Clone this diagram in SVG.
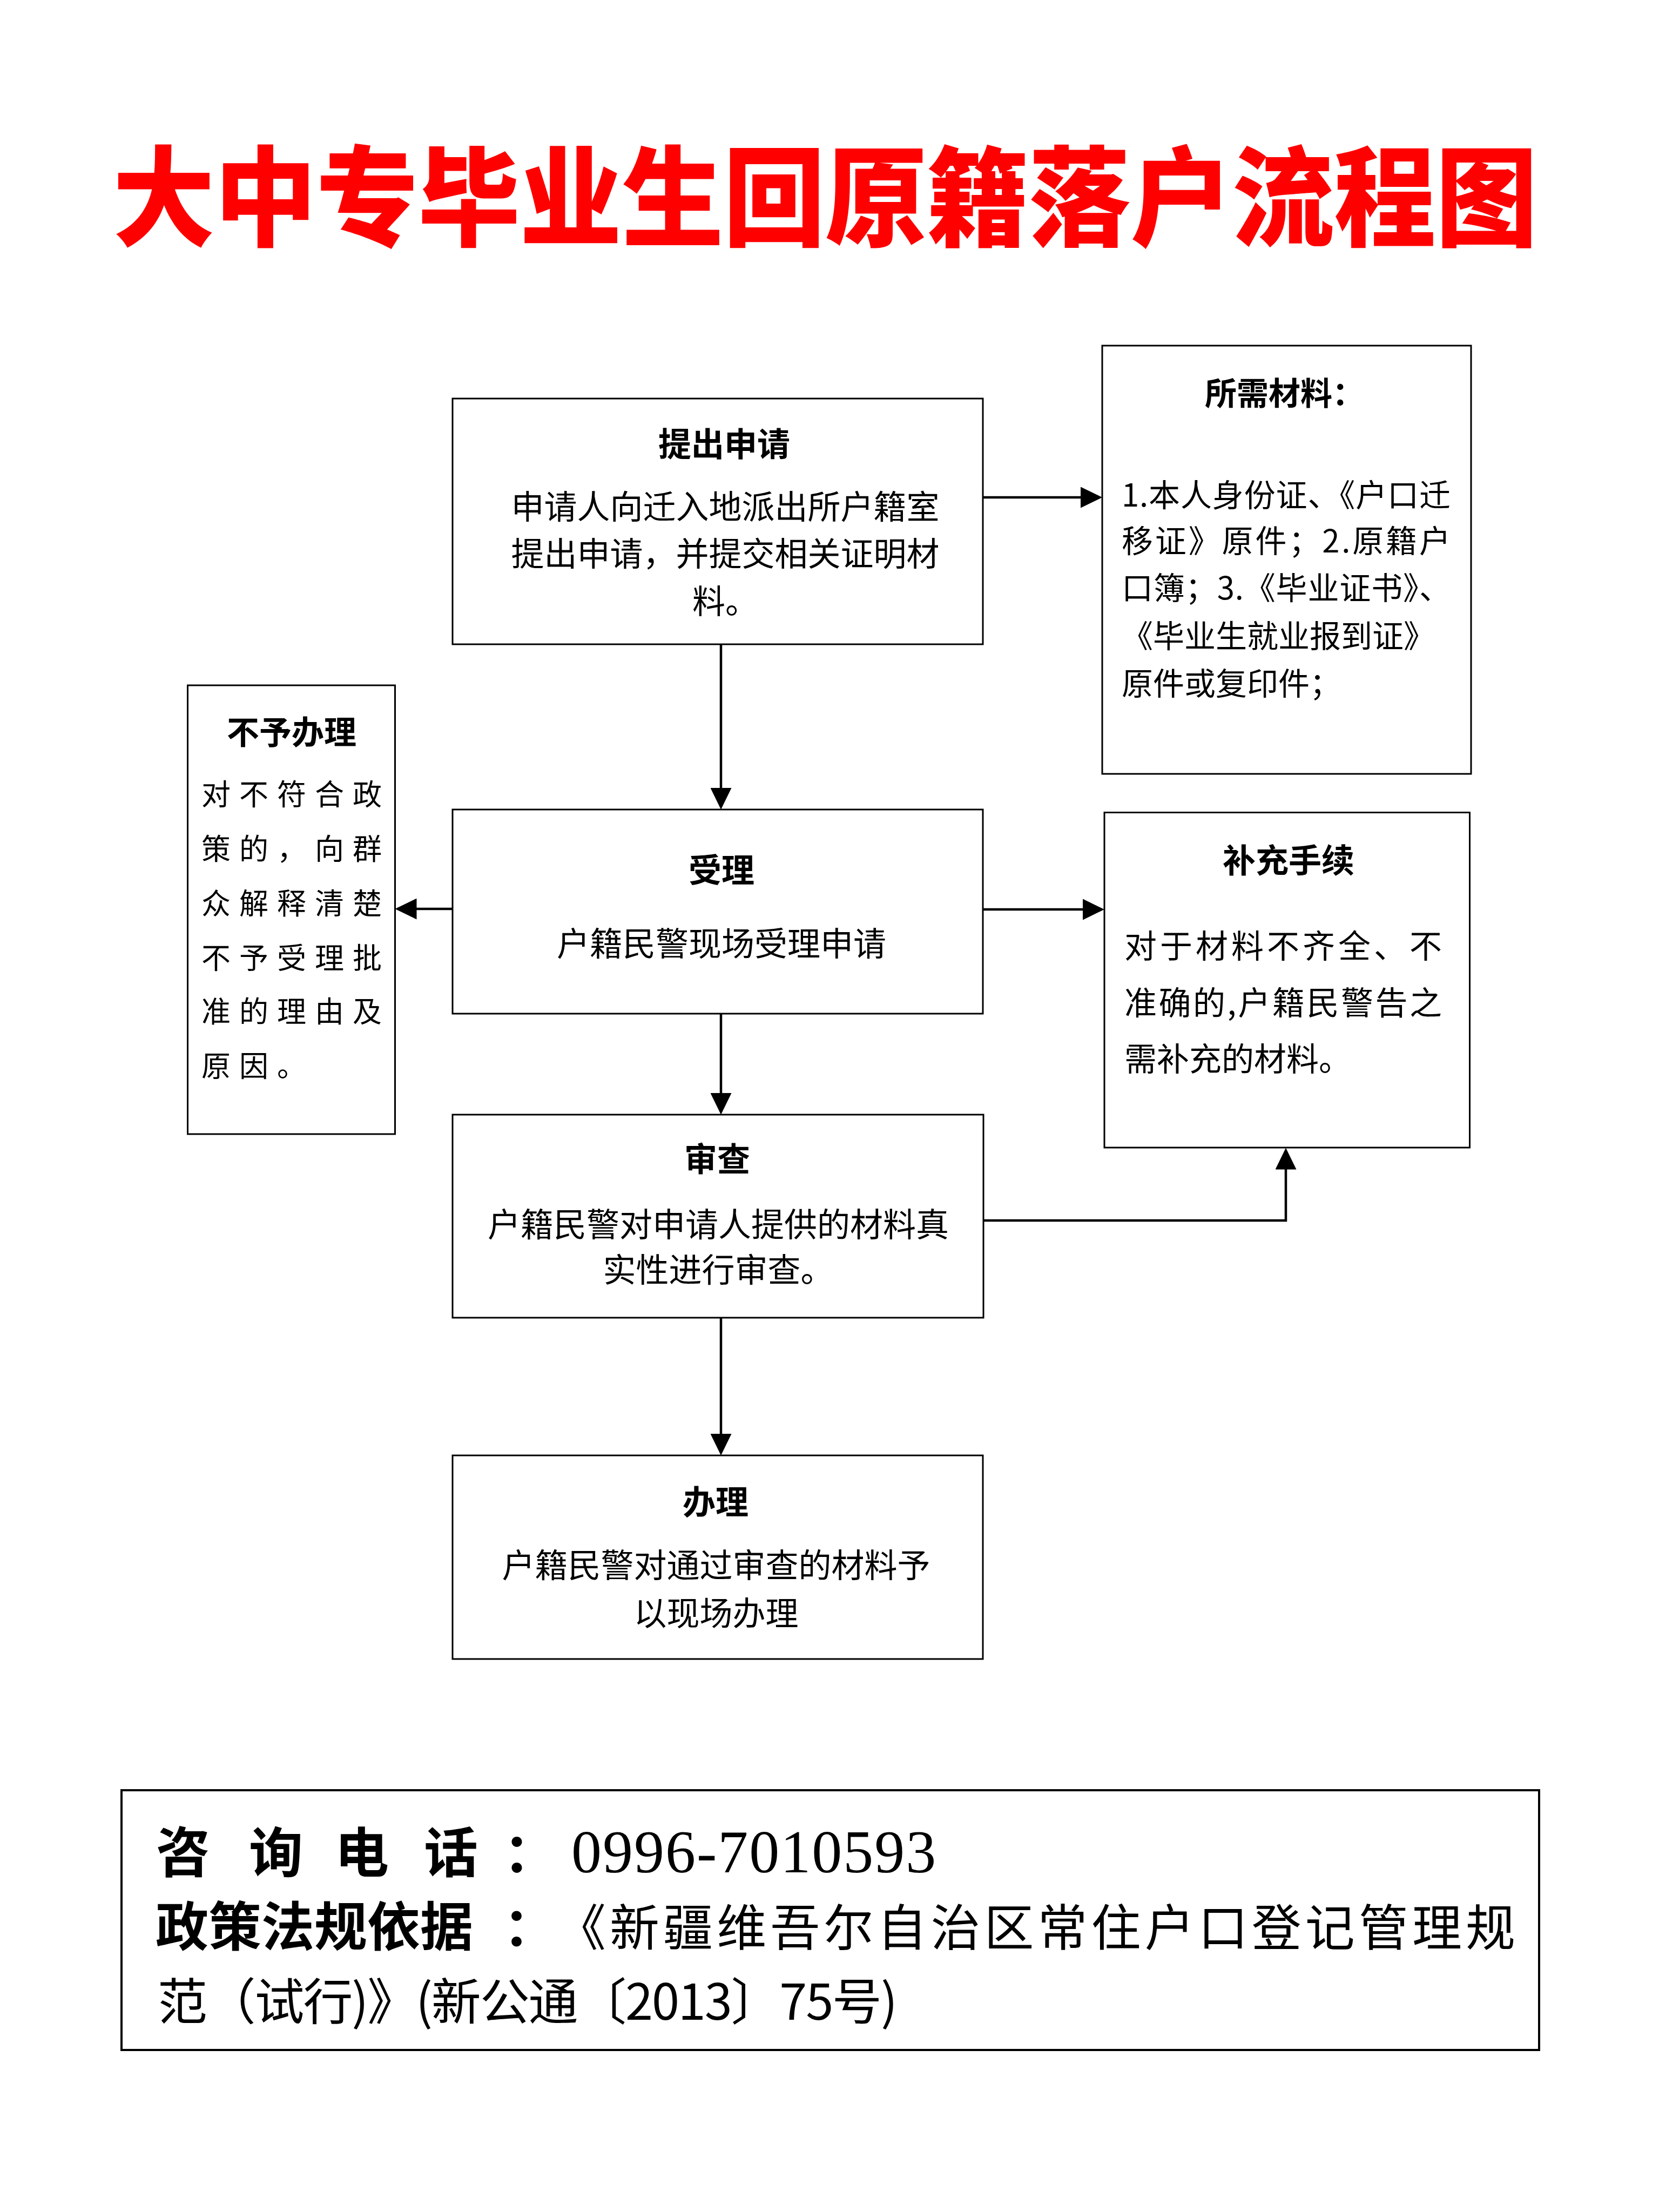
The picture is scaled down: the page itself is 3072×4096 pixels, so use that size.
<svg xmlns="http://www.w3.org/2000/svg" width="3072" height="4096" viewBox="0 0 3072 4096">
<defs>
<style>
.box{fill:#fff;stroke:#000;stroke-width:3}
.t{font-family:"Noto Sans CJK SC","Noto Sans CJK TC",sans-serif;fill:#000}
.h{font-weight:700;font-size:61px;text-anchor:middle}
.b{font-size:61px}
.m{text-anchor:middle}
.conn{fill:none;stroke:#000;stroke-width:4.5}
</style>
<marker id="ah" markerUnits="userSpaceOnUse" viewBox="0 0 40 39" refX="35" refY="19.5" markerWidth="40" markerHeight="39" orient="auto"><path d="M0,0 L40,19.5 L0,39 Z" fill="#000"/></marker>
</defs>
<rect width="3072" height="4096" fill="#fff"/>

<g id="title">
<text class="t" transform="translate(1528,440) scale(1,1.06)" x="0" y="0" text-anchor="middle" font-size="190" font-weight="900" fill="#ff0000" style="fill:#ff0000" textLength="2638" lengthAdjust="spacingAndGlyphs">大中专毕业生回原籍落户流程图</text>
</g>

<g id="connectors">
<path class="conn" d="M1335,1193 V1494" marker-end="url(#ah)"/>
<path class="conn" d="M1820,921 H2036" marker-end="url(#ah)"/>
<path class="conn" d="M838,1683 H736.5" marker-end="url(#ah)"/>
<path class="conn" d="M1820,1684 H2040" marker-end="url(#ah)"/>
<path class="conn" d="M1335,1877 V2059" marker-end="url(#ah)"/>
<path class="conn" d="M1821,2260 H2381 V2130.6" marker-end="url(#ah)"/>
<path class="conn" d="M1335,2440 V2690" marker-end="url(#ah)"/>
</g>

<g id="n_apply">
<rect class="box" x="838" y="738" width="982" height="455"/>
<text class="t h" x="1341" y="845">提出申请</text>
<text class="t b m" x="1343" y="961">申请人向迁入地派出所户籍室</text>
<text class="t b m" x="1343" y="1048">提出申请，并提交相关证明材</text>
<text class="t b m" x="1343" y="1136">料。</text>
</g>

<g id="n_materials">
<rect class="box" x="2041" y="640" width="683" height="793"/>
<text class="t" x="2231" y="750" font-size="59" font-weight="700">所需材料：</text>
<text class="t" x="2077" y="938" font-size="58" textLength="609" lengthAdjust="spacing">1.本人身份证、《户口迁</text>
<text class="t" x="2077" y="1023" font-size="58" textLength="609" lengthAdjust="spacing">移证》原件；2.原籍户</text>
<text class="t" x="2077" y="1110" font-size="58" textLength="609" lengthAdjust="spacing">口簿；3.《毕业证书》、</text>
<text class="t" x="2077" y="1199" font-size="58">《毕业生就业报到证》</text>
<text class="t" x="2077" y="1287" font-size="58">原件或复印件；</text>
</g>

<g id="n_reject">
<rect class="box" x="347.5" y="1269" width="384" height="831"/>
<text class="t" x="540" y="1378" font-size="60" font-weight="700" text-anchor="middle">不予办理</text>
<g class="t" font-size="54" letter-spacing="16">
<text x="373" y="1491">对不符合政</text>
<text x="373" y="1592">策的，向群</text>
<text x="373" y="1693">众解释清楚</text>
<text x="373" y="1794">不予受理批</text>
<text x="373" y="1893">准的理由及</text>
<text x="373" y="1994">原因。</text>
</g>
</g>

<g id="n_accept">
<rect class="box" x="838" y="1499" width="982" height="378"/>
<text class="t h" x="1336" y="1634">受理</text>
<text class="t b m" x="1336" y="1770">户籍民警现场受理申请</text>
</g>

<g id="n_supplement">
<rect class="box" x="2045" y="1504.5" width="676.5" height="620.5"/>
<text class="t h" x="2386" y="1616">补充手续</text>
<text class="t" x="2082" y="1774" font-size="60" textLength="588" lengthAdjust="spacing">对于材料不齐全、不</text>
<text class="t" x="2082" y="1879" font-size="60" textLength="588" lengthAdjust="spacing">准确的,户籍民警告之</text>
<text class="t" x="2082" y="1983" font-size="60">需补充的材料。</text>
</g>

<g id="n_review">
<rect class="box" x="838" y="2064" width="983" height="376"/>
<text class="t h" x="1328" y="2169">审查</text>
<text class="t b m" x="1330" y="2290">户籍民警对申请人提供的材料真</text>
<text class="t b m" x="1330" y="2374">实性进行审查。</text>
</g>

<g id="n_handle">
<rect class="box" x="838" y="2695" width="982" height="377"/>
<text class="t h" x="1325" y="2804">办理</text>
<text class="t b m" x="1326" y="2921">户籍民警对通过审查的材料予</text>
<text class="t b m" x="1326" y="3010">以现场办理</text>
</g>

<g id="footer">
<rect x="225" y="3315" width="2625" height="481" fill="#fff" stroke="#000" stroke-width="4"/>
<text class="t" x="289 389 461 561 620 720 785 885 932" y="3467" font-size="100" font-weight="700">咨 询 电 话 ：</text>
<text x="1058" y="3467" font-family="'Liberation Serif',serif" font-size="112" letter-spacing="2">0996-7010593</text>
<text class="t" x="288" y="3603" font-size="98" font-weight="700">政策法规依据</text>
<text class="t" x="932" y="3603" font-size="98" font-weight="700">：</text>
<text class="t" x="1030" y="3603" font-size="92" textLength="1776" lengthAdjust="spacing">《新疆维吾尔自治区常住户口登记管理规</text>
<text class="t" x="292" y="3740" font-size="92" textLength="1370" lengthAdjust="spacing">范（试行)》(新公通〔2013〕75号)</text>
</g>
</svg>
